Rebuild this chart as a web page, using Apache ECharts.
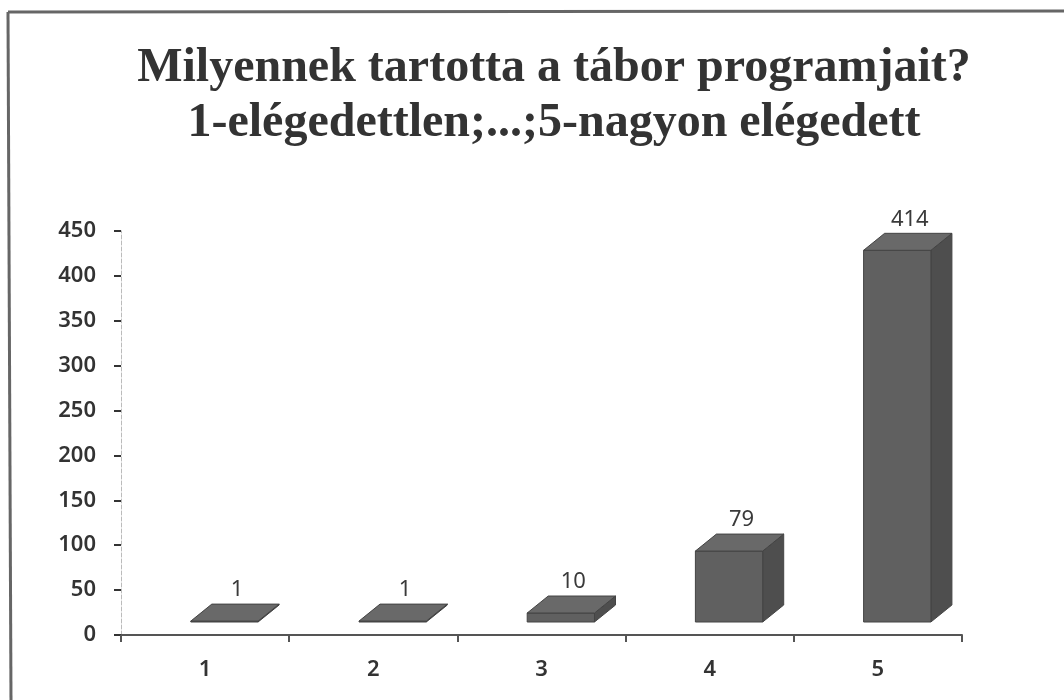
<!DOCTYPE html>
<html>
<head>
<meta charset="utf-8">
<script src="https://cdn.jsdelivr.net/npm/echarts@6/dist/echarts.min.js"></script>
<style>
  html, body { margin: 0; padding: 0; background: #fff; }
  #main { width: 1064px; height: 700px; }
</style>
</head>
<body>
<div id="main"></div>
<script>
var titleLines = ["Milyennek tartotta a tábor programjait?", "1-elégedettlen;...;5-nagyon elégedett"];
var categories = ["1", "2", "3", "4", "5"];
var counts = [1, 1, 10, 79, 414];
var yTicks = { min: 0, max: 450, step: 50 };

var chartDom = document.getElementById("main");
var myChart = echarts.init(chartDom);

var labelFont = "'Noto Sans', sans-serif";

// 3D-looking column: front face, top face and right side face
function renderBox(params, api) {
  var idx = api.value(0);
  var val = api.value(1);
  var base = api.coord([idx, 0]);
  var top = api.coord([idx, val]);
  var bw = api.size([1, 0])[0];
  var lift = 13;
  var dx = bw * 0.125;
  var dy = 17;
  var x0 = base[0] - bw * 0.085;
  var x1 = x0 + bw * 0.4;
  var yb = base[1] - lift;
  var yt = top[1] - lift;
  var stroke = "#444";
  return {
    type: "group",
    children: [
      {
        type: "polygon",
        shape: { points: [[x1, yb], [x1 + dx, yb - dy], [x1 + dx, yt - dy], [x1, yt]] },
        style: { fill: "#4e4e4e", stroke: stroke, lineWidth: 1 }
      },
      {
        type: "polygon",
        shape: { points: [[x0, yb], [x1, yb], [x1, yt], [x0, yt]] },
        style: { fill: "#606060", stroke: stroke, lineWidth: 1 }
      },
      {
        type: "polygon",
        shape: { points: [[x0, yt], [x1, yt], [x1 + dx, yt - dy], [x0 + dx, yt - dy]] },
        style: { fill: "#696969", stroke: stroke, lineWidth: 1 }
      },
      {
        type: "text",
        style: {
          text: String(val),
          x: (x0 + x1) / 2 + dx / 2 + 2,
          y: yt - dy - 14,
          align: "center",
          verticalAlign: "middle",
          fill: "#3a3a3a",
          font: "22px " + labelFont
        }
      }
    ]
  };
}

var option = {
  animation: false,
  backgroundColor: "#fff",
  title: {
    text: titleLines.join("\n"),
    left: 549,
    top: 36,
    textAlign: "center",
    textStyle: {
      fontFamily: "'Liberation Serif', serif",
      fontWeight: "bold",
      fontSize: 48,
      lineHeight: 55,
      color: "#333"
    }
  },
  graphic: [
    { type: "line", shape: { x1: 8, y1: 12, x2: 1064, y2: 11 }, style: { stroke: "#666", lineWidth: 3 } },
    { type: "line", shape: { x1: 8, y1: 12, x2: 11, y2: 700 }, style: { stroke: "#666", lineWidth: 3 } }
  ],
  grid: { left: 121, right: 102, top: 231, bottom: 65 },
  xAxis: {
    type: "category",
    data: categories,
    axisLine: { lineStyle: { color: "#555", width: 2 } },
    axisTick: { show: true, length: 7, lineStyle: { color: "#555", width: 2 } },
    axisLabel: { margin: 24, color: "#333", fontSize: 22, fontWeight: 600, fontFamily: labelFont }
  },
  yAxis: {
    type: "value",
    min: yTicks.min,
    max: yTicks.max,
    interval: yTicks.step,
    axisLine: { show: true, lineStyle: { color: "#bbb", width: 1, type: "dashed" } },
    axisTick: { show: true, length: 7, lineStyle: { color: "#333", width: 2 } },
    axisLabel: { margin: 25, color: "#333", fontSize: 22, fontWeight: 600, fontFamily: labelFont },
    splitLine: { show: false }
  },
  series: [
    {
      type: "custom",
      renderItem: renderBox,
      encode: { x: 0, y: 1 },
      data: counts.map(function (v, i) { return [i, v]; })
    }
  ]
};

option && myChart.setOption(option);
</script>
</body>
</html>
